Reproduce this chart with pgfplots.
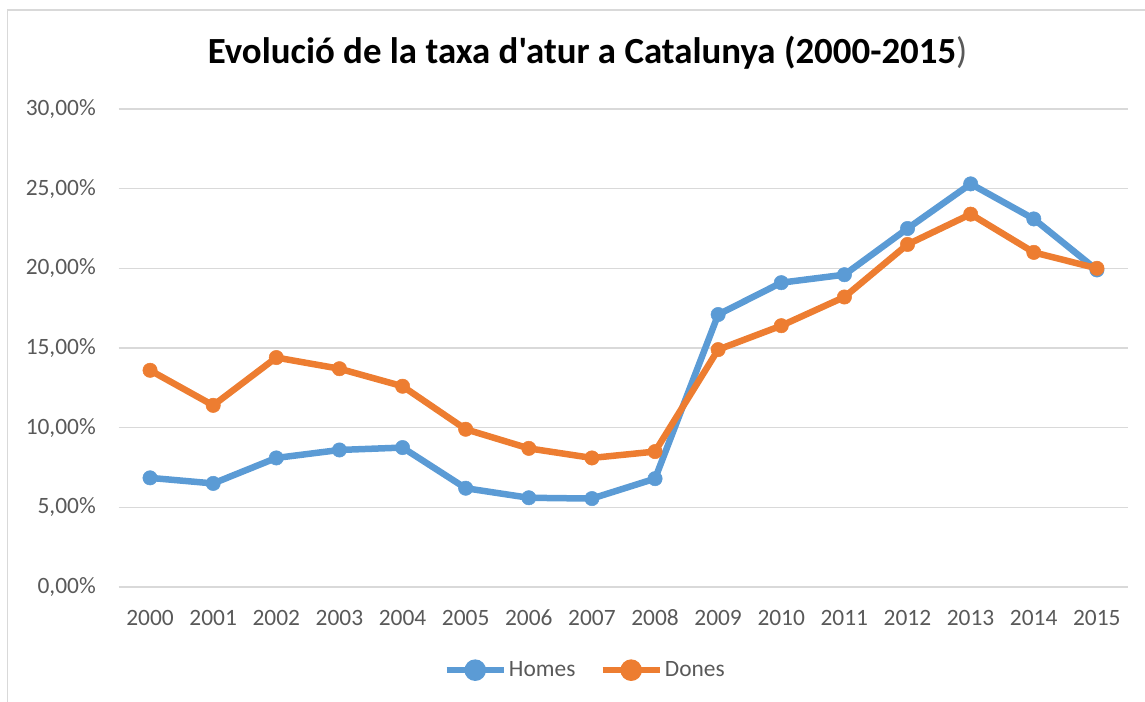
\documentclass[border=0pt]{standalone}
\usepackage{pgfplots}
\pgfplotsset{compat=1.18}
\usepackage{fontspec}
\setmainfont{Carlito}
\newfontfamily\titlefont{Carlito}
\definecolor{cblue}{HTML}{5B9BD5}
\definecolor{corange}{HTML}{ED7D31}
\definecolor{cgrid}{HTML}{D9D9D9}
\definecolor{ctext}{HTML}{595959}
\begin{document}
\begin{tikzpicture}
\useasboundingbox (0,0) rectangle (1145bp,702bp);
\draw[cgrid, line width=1.5bp] (7.5bp,0) -- (7.5bp,692bp) -- (1145bp,692bp);
\node[anchor=base, inner sep=0pt] at (587.5bp,638bp) {\titlefont\fontsize{37}{42}\selectfont\bfseries Evolució de la taxa d'atur a Catalunya (2000-2015\textcolor{ctext}{\mdseries )}};
\begin{axis}[
  at={(118.5bp,115bp)}, anchor=south west,
  width=1010bp, height=478bp, scale only axis,
  xmin=1999.5, xmax=2015.5, ymin=0, ymax=30,
  xtick={2000,...,2015}, ytick={0,5,...,30},
  yticklabels={{0,00\%},{5,00\%},{10,00\%},{15,00\%},{20,00\%},{25,00\%},{30,00\%}},
  x tick label style={/pgf/number format/1000 sep={}, anchor=base, inner sep=0pt, yshift=-38bp},
  y tick label style={anchor=east, inner sep=0pt, xshift=-22.5bp},
  /pgf/number format/assume math mode=true,
  tick label style={font=\fontsize{23.5}{27}\selectfont, text=ctext},
  major tick length=0pt,
  axis line style={draw=none},
  ymajorgrids, grid style={cgrid, line width=1.5bp},
  clip=false,
  legend columns=2,
  legend style={at={(axis description cs:0.462,-0.174)}, anchor=center, draw=none, fill=none,
    font=\fontsize{23.5}{27}\selectfont, text=ctext, inner sep=0pt,
    /tikz/every even column/.style={column sep=22bp}},
  legend image code/.code={
    \draw[line width=6.5bp] (0bp,0bp) -- (57bp,0bp);
    \fill (28.5bp,0bp) circle (7.5bp);
  },
]
\addplot[cblue, line width=6.5bp, mark=*, mark size=7.2bp, mark options={solid, line width=0.5bp, fill=cblue}] coordinates {
(2000,6.85) (2001,6.5) (2002,8.1) (2003,8.6) (2004,8.75) (2005,6.2) (2006,5.6) (2007,5.55)
(2008,6.8) (2009,17.1) (2010,19.1) (2011,19.6) (2012,22.5) (2013,25.3) (2014,23.1) (2015,19.9)};
\addlegendentry{Homes}
\addplot[corange, line width=6.5bp, mark=*, mark size=7.2bp, mark options={solid, line width=0.5bp, fill=corange}] coordinates {
(2000,13.6) (2001,11.4) (2002,14.4) (2003,13.7) (2004,12.6) (2005,9.9) (2006,8.7) (2007,8.1)
(2008,8.5) (2009,14.9) (2010,16.4) (2011,18.2) (2012,21.5) (2013,23.4) (2014,21.0) (2015,20.0)};
\addlegendentry{Dones}
\end{axis}
\end{tikzpicture}
\end{document}
